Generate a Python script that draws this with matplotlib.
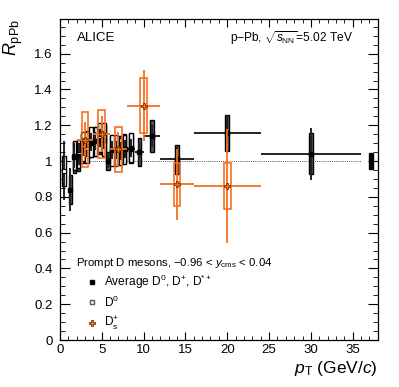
import matplotlib

matplotlib.use("Agg")
import matplotlib.pyplot as plt
from matplotlib.ticker import MultipleLocator, FuncFormatter

plt.rcParams["font.family"] = ["Liberation Sans", "DejaVu Sans"]
plt.rcParams["mathtext.fontset"] = "custom"
plt.rcParams["mathtext.rm"] = "Liberation Sans"
plt.rcParams["mathtext.it"] = "Liberation Sans:italic"
plt.rcParams["mathtext.bf"] = "Liberation Sans:bold"

# average D0, D+, D*+
avg_x = [1.25, 1.75, 2.25, 2.75, 3.25, 3.75, 4.25, 4.75, 5.25, 5.75, 6.25, 6.75,
         7.25, 7.75, 8.5, 9.5, 11, 14, 20, 30]
avg_xerr = [0.25] * 14 + [0.5, 0.5, 1, 2, 4, 6]
avg_y = [0.84, 1.02, 1.03, 1.07, 1.09, 1.10, 1.11, 1.12, 1.12, 1.00, 1.06, 1.06,
         1.06, 1.07, 1.07, 1.05, 1.14, 1.01, 1.155, 1.04]
avg_stat = [0.12, 0.06, 0.05, 0.04, 0.04, 0.04, 0.04, 0.04, 0.04, 0.04, 0.04, 0.04,
            0.04, 0.04, 0.04, 0.05, 0.06, 0.07, 0.10, 0.145]
avg_syst = [0.08, 0.085, 0.085, 0.08, 0.08, 0.08, 0.08, 0.08, 0.08, 0.05, 0.08, 0.08,
            0.08, 0.08, 0.08, 0.08, 0.087, 0.08, 0.10, 0.115]

# D0 (finer bins)
d0_x = [0.5, 1.75, 2.25, 2.75, 3.25, 3.75, 4.25, 4.75, 5.25, 6.25, 6.75, 7.25, 7.75, 8.5]
d0_y = [0.945, 1.03, 1.04, 1.08, 1.075, 1.105, 1.11, 1.13, 1.12, 1.06, 1.06, 1.055, 1.065, 1.075]
d0_stat = [0.165, 0.07, 0.06, 0.05, 0.05, 0.05, 0.05, 0.05, 0.05, 0.05, 0.05, 0.05, 0.05, 0.05]
d0_syst = [0.085, 0.08, 0.08, 0.08, 0.085, 0.085, 0.08, 0.08, 0.09, 0.085, 0.085, 0.075, 0.08, 0.08]

# Ds+
ds_x = [3, 5, 7, 10, 14, 20]
ds_xerr = [1, 1, 1, 2, 2, 4]
ds_y = [1.12, 1.15, 1.065, 1.31, 0.87, 0.86]
ds_stat = [0.10, 0.10, 0.10, 0.20, 0.20, 0.32]
ds_syst = [0.155, 0.135, 0.125, 0.155, 0.12, 0.13]

norm_x = 37.2
norm_unc = 0.045
ref_line = 1.0

ORANGE = "#f5701f"

fig = plt.figure(figsize=(3.99, 3.87), dpi=100)
ax = fig.add_axes([0.150, 0.1214, 0.797, 0.830])

avg_w = [0.42] * 16 + [0.5] * 4
ax.bar(avg_x, [2 * s for s in avg_syst], bottom=[y - s for y, s in zip(avg_y, avg_syst)],
       width=avg_w, color="#555555", edgecolor="black", linewidth=1.0, zorder=2)
ax.bar(d0_x, [2 * s for s in d0_syst], bottom=[y - s for y, s in zip(d0_y, d0_syst)],
       width=0.42, color="white", edgecolor="black", linewidth=1.0, zorder=3)
ax.errorbar(d0_x, d0_y, yerr=d0_stat, fmt="none", ecolor="black", elinewidth=1.2, zorder=4)
ax.errorbar(avg_x, avg_y, xerr=avg_xerr, yerr=avg_stat, fmt="none", ecolor="#222222",
            elinewidth=1.4, zorder=4)
ax.plot(d0_x, d0_y, ls="none", marker="s", ms=3, mfc="white", mec="black", mew=0.8, zorder=5)
ax.plot(avg_x, avg_y, ls="none", marker="s", ms=3.5, mfc="black", mec="black", zorder=6)

ax.bar(ds_x, [2 * s for s in ds_syst], bottom=[y - s for y, s in zip(ds_y, ds_syst)],
       width=0.8, color="none", edgecolor=ORANGE, linewidth=1.2, zorder=7)
ax.errorbar(ds_x, ds_y, xerr=ds_xerr, yerr=ds_stat, fmt="none", ecolor=ORANGE,
            elinewidth=1.3, zorder=8)
ax.plot(ds_x, ds_y, ls="none", marker="P", ms=5, mfc=ORANGE, mec="#7a3000", mew=0.6, zorder=9)

ax.bar([norm_x], [2 * norm_unc], bottom=[ref_line - norm_unc], width=0.55,
       color="black", edgecolor="black", zorder=5)
ax.hlines(ref_line, 0, 36, colors="#555555", linestyles=(0, (1, 1.2)), linewidth=0.7, zorder=1)

ax.set_xlim(0, 38)
ax.set_ylim(0, 1.795)
ax.xaxis.set_major_locator(MultipleLocator(5))
ax.xaxis.set_minor_locator(MultipleLocator(1))
ax.yaxis.set_major_locator(MultipleLocator(0.2))
ax.yaxis.set_minor_locator(MultipleLocator(0.05))
ax.yaxis.set_major_formatter(FuncFormatter(lambda v, p: "%g" % round(v, 2)))
ax.tick_params(which="both", direction="in", top=True, right=True, labelsize=9.5)
ax.tick_params(axis="x", which="major", length=5.5, pad=3)
ax.tick_params(axis="x", which="minor", length=2.8)
ax.tick_params(axis="y", which="major", length=7, pad=5)
ax.tick_params(axis="y", which="minor", length=3.5)
for s in ax.spines.values():
    s.set_linewidth(0.9)

ax.set_ylabel(r"$R_{\rm pPb}$", fontsize=13, loc="top")
ax.yaxis.set_label_coords(-0.11, 1.0)
ax.set_xlabel(r"$p_{\rm T}$ (GeV/$c$)", fontsize=12.5, loc="right")
ax.xaxis.set_label_coords(1.0, -0.06)

ax.text(0.053, 0.94, "ALICE", transform=ax.transAxes, fontsize=9.5, va="center")
ax.text(0.923, 0.94, r"p–Pb, $\sqrt{s_{\rm NN}}$=5.02 TeV", transform=ax.transAxes,
        fontsize=8.6, va="center", ha="right")

ax.text(0.050, 0.240, r"Prompt D mesons, −0.96 < $y_{\rm cms}$ < 0.04", transform=ax.transAxes,
        fontsize=8.2, va="center")
kx, tx = 0.1006, 0.138
rows = [0.1816, 0.118, 0.053]
ax.plot([kx], [rows[0]], marker="s", ms=3.5, color="black", transform=ax.transAxes, clip_on=False)
ax.plot([kx], [rows[1]], marker="s", ms=3, mfc="white", mec="#555555", transform=ax.transAxes,
        clip_on=False)
ax.plot([kx], [rows[2]], marker="P", ms=5, mfc=ORANGE, mec="#7a3000", mew=0.6,
        transform=ax.transAxes, clip_on=False)
ax.text(tx, rows[0], r"Average D$^{0}$, D$^{+}$, D$^{*+}$", transform=ax.transAxes,
        fontsize=8.6, va="center")
ax.text(tx, rows[1], r"D$^{0}$", transform=ax.transAxes, fontsize=8.6, va="center")
ax.text(tx, rows[2], r"D$_{\rm s}^{+}$", transform=ax.transAxes, fontsize=8.6, va="center")

fig.savefig("out.png", dpi=100)
